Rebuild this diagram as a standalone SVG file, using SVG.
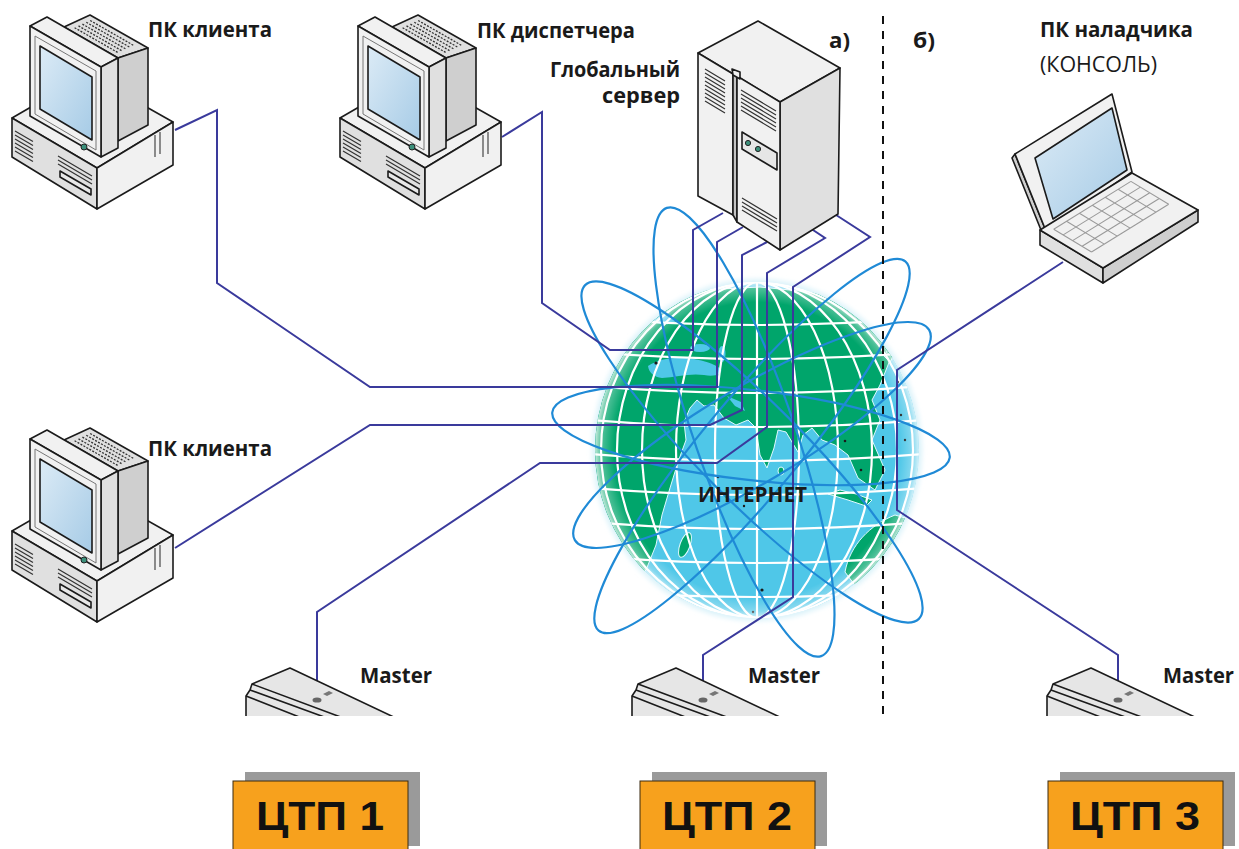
<svg xmlns="http://www.w3.org/2000/svg" xmlns:xlink="http://www.w3.org/1999/xlink" width="1239" height="849" viewBox="0 0 1239 849">
<defs>
<style>
.ol{stroke:#1b1b1b;stroke-width:1.6;stroke-linejoin:round}
.f1{fill:#f1f1f1}.f2{fill:#e0e0e0}.f3{fill:#cfcfcf}
.vent{fill:none;stroke:#333;stroke-width:1.2}
.lbl{font-family:"Open Sans","Liberation Sans",sans-serif;font-weight:700;font-size:21px;fill:#1a1a1a}
.lbln{font-family:"Open Sans","Liberation Sans",sans-serif;font-weight:400;font-size:21px;fill:#1a1a1a}
.link{fill:none;stroke:#3a3a9c;stroke-width:2}
.orbit{fill:none;stroke:#1f8ad6;stroke-width:2.2}
.grid{fill:none;stroke:#ffffff;stroke-width:2.2}
.land{fill:#00a56b;stroke:#dff8ff;stroke-width:1}
.sea{fill:#4fc7e8}
.ctp{fill:#f7a11d;stroke:#3a2a10;stroke-width:1}
.shadow{fill:#9a9a9a}
.ctpt{font-family:"Liberation Sans",Arial,sans-serif;font-weight:700;font-size:41px;fill:#111;text-anchor:middle}
.dot{fill:#1a1a1a}
</style>
<linearGradient id="scr" x1="0" y1="0" x2="1" y2="1">
<stop offset="0" stop-color="#dcebf6"/><stop offset="1" stop-color="#a6cbe6"/>
</linearGradient>
<radialGradient id="rim" cx="0.5" cy="0.5" r="0.5">
<stop offset="0.88" stop-color="#ffffff" stop-opacity="0"/>
<stop offset="0.96" stop-color="#ffffff" stop-opacity="0.3"/>
<stop offset="1" stop-color="#ffffff" stop-opacity="0.75"/>
</radialGradient>
<filter id="soft" x="-10%" y="-10%" width="120%" height="120%"><feGaussianBlur stdDeviation="2.5"/></filter>
<clipPath id="gclip"><ellipse cx="757" cy="450" rx="162" ry="168"/></clipPath>
<clipPath id="cut"><rect x="0" y="0" width="1239" height="716"/></clipPath>

<!-- desktop computer: case + CRT monitor -->
<g id="pcSym">
<polygon class="f1 ol" points="12,118 88,74 173,122 97,168"/>
<polygon class="f2 ol" points="12,118 97,168 97,209 12,157"/>
<polygon class="f1 ol" points="97,168 173,122 173,165 97,209"/>
<path class="vent" d="M15,131 L33,141.5 M15,135 L33,145.5 M15,139 L33,149.5 M15,143 L33,153.5 M15,147 L33,157.5 M15,151 L33,161.5"/>
<path class="vent" d="M58,156 L92,176 M58,160 L92,180 M58,164 L92,184"/>
<polygon class="ol" fill="#e8e8e8" points="60,171 91,189 91,195 60,177"/>
<path fill="none" stroke="#555" stroke-width="1.3" d="M155,135 V157 M160,132 V154"/>
<polygon class="f2 ol" points="64,27 90,15 148,48 118,58"/>
<polygon class="f3 ol" points="118,58 148,48 148,125 118,141"/>
<path fill="none" stroke="#333" stroke-width="1.3" stroke-dasharray="2 1.4" d="M74.6,27.7 L117.8,52.5 M78.5,25.9 L121.7,50.7 M82.4,24.1 L125.6,48.9 M86.3,22.3 L129.5,47.1 M90.2,20.5 L133.4,45.3"/>
<polygon class="f1 ol" points="30,26 47,17 118,58 101,67"/>
<polygon class="f2 ol" points="101,67 118,58 118,148 101,157"/>
<polygon class="f1 ol" points="30,26 101,67 101,157 30,116"/>
<polygon fill="none" stroke="#777" stroke-width="1" points="35,36 96,71 96,150 35,114"/>
<polygon class="ol" fill="url(#scr)" points="40,46 92,77 92,140 40,109"/>
<circle cx="84" cy="147" r="3" fill="#3a8f7a" stroke="#222" stroke-width="1"/>
</g>

<!-- flat controller unit, top part only -->
<g id="masterSym">
<polygon class="ol" fill="#e6e6e6" points="246,720 246,696 250,690 252,684 290,668 400,720"/>
<path class="ol" fill="none" d="M252,684 L354,722 M250,690 L338,722 M246,696 L312,722"/>
<ellipse cx="317" cy="700" rx="4.5" ry="2.6" fill="#666"/>
<path d="M323,694 l6,-3 l4,2 l-6,3 z" fill="#777"/>
</g>
</defs>

<rect width="1239" height="849" fill="#ffffff"/>

<!-- the Internet globe -->
<g id="internet">
<ellipse cx="757" cy="450" rx="165" ry="171" fill="#dcf3fa" filter="url(#soft)"/>
<g clip-path="url(#gclip)">
<ellipse cx="757" cy="450" rx="162" ry="168" fill="#4fc7e8"/>
<path class="land" d="M598,340 C612,318 640,302 665,296 L700,290 L760,287 L820,293 L860,308 L885,330 L890,360 L880,385 L872,400 L880,420 L872,440 L885,470 L875,490 L858,478 L848,455 L835,445 L822,440 L812,428 L803,435 L798,452 L786,432 L778,430 L774,448 L767,468 L760,455 L756,428 L748,420 L736,425 L724,418 L714,405 L704,406 L697,400 L690,408 L684,422 L686,440 L678,462 L670,488 L662,515 L656,545 L646,570 L630,582 L612,575 L600,550 L590,500 L590,400 Z"/>
<path class="sea" d="M648,366 C660,358 676,356 694,359 C704,361 713,363 721,369 C723,374 715,377 704,375 C690,373 676,377 662,378 C654,377 649,373 648,366 Z"/>
<ellipse class="sea" cx="700" cy="348" rx="10" ry="4"/>
<ellipse class="sea" cx="722" cy="354" rx="3.5" ry="8"/>
<path class="sea" d="M727,396 L741,402 L745,411 L735,406 Z"/>
<path class="sea" d="M650,318 C660,313 670,315 676,321 C668,326 657,326 650,318 Z"/>
<ellipse class="land" cx="685" cy="545" rx="5" ry="13" transform="rotate(20 685 545)"/>
<ellipse class="land" cx="781" cy="471" rx="3" ry="4"/>
<path class="land" d="M828,494 L848,500 L866,506 L872,500 L856,494 L840,490 Z"/>
<path class="land" d="M845,572 C850,545 870,525 895,515 L912,520 L905,562 L882,586 L860,592 Z"/>
<path class="land" d="M884,356 L894,340 L900,344 L890,362 Z"/>
<g class="grid">
<line x1="757" y1="280" x2="757" y2="620"/>
<ellipse cx="757" cy="450" rx="42" ry="168"/>
<ellipse cx="757" cy="450" rx="81" ry="168"/>
<ellipse cx="757" cy="450" rx="115" ry="168"/>
<ellipse cx="757" cy="450" rx="140" ry="168"/>
<ellipse cx="757" cy="450" rx="156" ry="168"/>
<path d="M590,318 Q757,332 924,318 M590,352 Q757,366 924,352 M590,386 Q757,400 924,386 M590,420 Q757,434 924,420 M590,454 Q757,468 924,454 M590,488 Q757,502 924,488 M590,522 Q757,536 924,522 M590,556 Q757,570 924,556 M590,590 Q757,604 924,590"/>
</g>
<g>
<circle class="dot" cx="845" cy="441" r="1.3"/><circle class="dot" cx="861" cy="470" r="1.3"/>
<circle class="dot" cx="893" cy="552" r="1.3"/><circle class="dot" cx="762" cy="590" r="1.6"/>
<circle class="dot" cx="718" cy="477" r="1.3"/><circle class="dot" cx="744" cy="506" r="1.2"/>
<circle class="dot" cx="880" cy="330" r="1.3"/><circle class="dot" cx="898" cy="382" r="1.2"/>
<circle class="dot" cx="672" cy="302" r="1.2"/><circle class="dot" cx="668" cy="300" r="1.2"/>
<circle class="dot" cx="656" cy="363" r="1.6"/><circle class="dot" cx="901" cy="415" r="1.2"/>
<circle class="dot" cx="905" cy="440" r="1.2"/><circle class="dot" cx="753" cy="612" r="1.2"/>
</g>
<ellipse cx="757" cy="450" rx="162" ry="168" fill="url(#rim)"/>
</g>
</g>

<!-- orbits around the globe -->
<g id="orbits">
<ellipse class="orbit" cx="752" cy="446" rx="240" ry="48" transform="rotate(-50.3 752 446)"/>
<ellipse class="orbit" cx="744" cy="432" rx="237" ry="50" transform="rotate(71 744 432)"/>
<ellipse class="orbit" cx="751" cy="435" rx="200" ry="45" transform="rotate(6.5 751 435)"/>
<ellipse class="orbit" cx="752" cy="452" rx="236" ry="50" transform="rotate(45 752 452)"/>
<ellipse class="orbit" cx="752" cy="435" rx="206" ry="48" transform="rotate(-30.7 752 435)"/>
</g>

<!-- cables -->
<g id="connectors">
<path class="link" d="M175,130 L217,110 L217,283 L370,387 L717,387 L717,242 L743,227"/>
<path class="link" d="M502,137 L542,112 L542,303 L610,350 L693,350 L693,230 L723,213"/>
<path class="link" d="M175,548 L370,425 L710,425 L742,410 L742,255 L767,242"/>
<path class="link" d="M317,700 L317,612 L540,463 L717,463 L767,427 L767,273 L825,238 L810,228"/>
<path class="link" d="M703,700 L703,655 L793,597 L793,287 L870,237 L833,213"/>
<path class="link" d="M1063,262 L897,370 L897,510 L1118,655 L1118,700"/>
</g>

<text class="lbl" x="698" y="502" font-size="20" textLength="109" lengthAdjust="spacingAndGlyphs">ИНТЕРНЕТ</text>

<!-- a) / b) separator -->
<line x1="883" y1="16" x2="883" y2="714" stroke="#111" stroke-width="2" stroke-dasharray="8 7"/>
<text class="lbl" x="829" y="48" textLength="21" lengthAdjust="spacingAndGlyphs">а)</text>
<text class="lbl" x="913" y="48" textLength="22" lengthAdjust="spacingAndGlyphs">б)</text>

<!-- client PC 1 -->
<g id="pc-client-1">
<use xlink:href="#pcSym"/>
<text class="lbl" x="148" y="37" textLength="124" lengthAdjust="spacingAndGlyphs">ПК клиента</text>
</g>

<!-- dispatcher PC -->
<g id="pc-dispatcher">
<use xlink:href="#pcSym" transform="translate(328,0)"/>
<text class="lbl" x="477" y="38" textLength="158" lengthAdjust="spacingAndGlyphs">ПК диспетчера</text>
</g>

<!-- client PC 2 -->
<g id="pc-client-2">
<use xlink:href="#pcSym" transform="translate(0,413)"/>
<text class="lbl" x="148" y="456" textLength="124" lengthAdjust="spacingAndGlyphs">ПК клиента</text>
</g>

<!-- global server -->
<g id="server">
<text class="lbl" x="550" y="77" textLength="130" lengthAdjust="spacingAndGlyphs">Глобальный</text>
<text class="lbl" x="602" y="103" textLength="78" lengthAdjust="spacingAndGlyphs">сервер</text>
<polygon class="f1 ol" points="698,53 758,21 840,68 780,102"/>
<polygon class="f2 ol" points="780,102 840,68 838,214 780,250"/>
<polygon class="f1 ol" points="698,53 733,74 733,215 698,196"/>
<polygon class="ol" fill="#c4c4c4" points="733,74 737,76 737,222 733,215"/>
<polygon class="f1 ol" points="737,76 780,102 780,250 737,222"/>
<polygon class="f1 ol" points="732,69 740,72 740,79 733,75"/>
<path class="vent" d="M705,69 L725,81 M705,73 L725,85 M705,77 L725,89 M705,81 L725,93 M705,85 L725,97 M705,89 L725,101 M705,93 L725,105 M705,97 L725,109 M705,101 L725,113"/>
<path class="vent" d="M741,90 L776,111 M741,94 L776,115 M741,98 L776,119 M741,102 L776,123 M741,106 L776,127 M741,110 L776,131"/>
<polygon class="ol" fill="#e6e6e6" points="742,132 777,153 777,170 742,149"/>
<circle cx="748" cy="143" r="2.6" fill="#3a8f7a" stroke="#222" stroke-width="1"/>
<circle cx="758" cy="149" r="2.6" fill="#3a8f7a" stroke="#222" stroke-width="1"/>
<path class="vent" d="M742,198 L777,219 M742,202 L777,223 M742,206 L777,227 M742,210 L777,231"/>
</g>

<!-- service laptop -->
<g id="laptop">
<text class="lbl" x="1040" y="37" textLength="153" lengthAdjust="spacingAndGlyphs">ПК наладчика</text>
<text class="lbln" x="1040" y="72" textLength="117" lengthAdjust="spacingAndGlyphs">(КОНСОЛЬ)</text>
<polygon class="f3 ol" points="1012,158 1015,154 1046,231 1043,235"/>
<polygon class="f1 ol" points="1015,154 1112,94 1132,172 1046,231"/>
<polygon class="ol" fill="url(#scr)" points="1035,158 1112,108 1127,170 1053,219"/>
<polygon class="f2 ol" points="1040,230 1103,268 1103,283 1040,245"/>
<polygon class="f3 ol" points="1103,268 1198,210 1198,222 1103,283"/>
<polygon class="f1 ol" points="1040,230 1132,173 1198,210 1103,268"/>
<path fill="none" stroke="#9a9a9a" stroke-width="1.1" d="M1053.7,229.2 L1130.9,181.4 M1063.2,234.9 L1140.4,187.1 M1072.6,240.6 L1149.8,192.8 M1082.1,246.3 L1159.3,198.5 M1091.5,252 L1168.7,204.2 M1053.7,229.2 L1091.5,252 M1066.5,221.3 L1104.3,244.1 M1079.4,213.3 L1117.2,236.1 M1092.3,205.3 L1130.1,228.1 M1105.2,197.3 L1143,220.1 M1118.1,189.3 L1155.9,212.1 M1130.9,181.4 L1168.7,204.2"/>
</g>

<!-- controllers -->
<g id="master-1">
<use xlink:href="#masterSym" clip-path="url(#cut)"/>
<text class="lbl" x="360" y="683" textLength="72" lengthAdjust="spacingAndGlyphs">Master</text>
</g>
<g id="master-2">
<g clip-path="url(#cut)"><use xlink:href="#masterSym" transform="translate(386,0)"/></g>
<text class="lbl" x="748" y="683" textLength="72" lengthAdjust="spacingAndGlyphs">Master</text>
</g>
<g id="master-3">
<g clip-path="url(#cut)"><use xlink:href="#masterSym" transform="translate(801,0)"/></g>
<text class="lbl" x="1163" y="683" textLength="71" lengthAdjust="spacingAndGlyphs">Master</text>
</g>

<!-- substations -->
<g id="ctp-1">
<rect class="shadow" x="245" y="772" width="175" height="74"/>
<rect class="ctp" x="233" y="781" width="175" height="72"/>
<text class="ctpt" x="320" y="830" textLength="128" lengthAdjust="spacingAndGlyphs">ЦТП 1</text>
</g>
<g id="ctp-2">
<rect class="shadow" x="652" y="772" width="175" height="74"/>
<rect class="ctp" x="640" y="781" width="175" height="72"/>
<text class="ctpt" x="727" y="830" textLength="130" lengthAdjust="spacingAndGlyphs">ЦТП 2</text>
</g>
<g id="ctp-3">
<rect class="shadow" x="1060" y="772" width="175" height="74"/>
<rect class="ctp" x="1048" y="781" width="175" height="72"/>
<text class="ctpt" x="1135" y="830" textLength="130" lengthAdjust="spacingAndGlyphs">ЦТП 3</text>
</g>
</svg>
